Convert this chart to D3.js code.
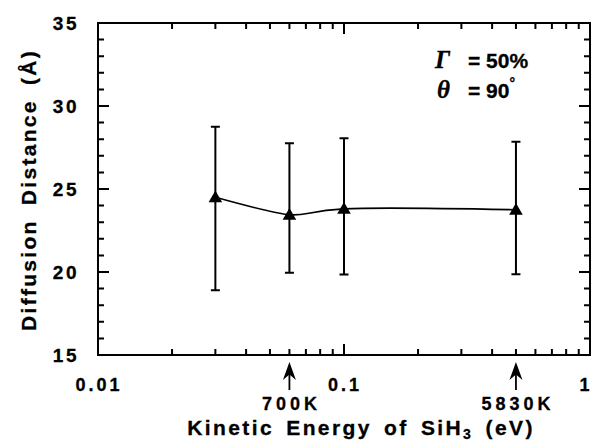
<!DOCTYPE html>
<html lang="en">
<head>
<meta charset="utf-8">
<script src="https://d3js.org/d3.v7.min.js"></script>
<title>Diffusion Distance vs Kinetic Energy</title>
<style>
    body { margin: 0; background: #fff; }
    svg { display: block; }
    text { font-family: "Liberation Sans", Arial, sans-serif; font-weight: bold; fill: #000; stroke: #000; stroke-width: 0.3px; }
</style>
</head>
<body>
<div id="chart"></div>
<script>
// data
const energies = [0.03, 0.06, 0.1, 0.5];           // eV
const distances = [24.5, 23.45, 23.8, 23.75];      // Angstrom
const errLow = [18.9, 19.95, 19.85, 19.87];
const errHigh = [28.75, 27.75, 28.05, 27.85];

const xTicks = [0.01, 0.1, 1];
const xTickLabels = ["0.01", "0.1", "1"];
const yTicks = [15, 20, 25, 30, 35];

const arrowEnergies = [0.06, 0.5];
const arrowLabels = ["700K", "5830K"];

const W = 593, H = 441;
const margin = {top: 23, right: 3, bottom: 86, left: 98};

const svg = d3.select("#chart").append("svg")
    .attr("width", W)
    .attr("height", H);

const x = d3.scaleLog()
    .domain([0.01, 1])
    .range([margin.left, W - margin.right]);

const y = d3.scaleLinear()
    .domain([15, 35])
    .range([H - margin.bottom, margin.top]);

const x0 = x.range()[0], x1 = x.range()[1];
const y0 = y.range()[0], y1 = y.range()[1];

// minor ticks
const xMinor = [];
[0.01, 0.1].forEach(d => { for (let k = 2; k <= 9; k++) xMinor.push(d * k); });
const yMinor = d3.range(15, 36).filter(v => v % 5 !== 0);

const g = svg.append("g").attr("stroke", "#000").attr("fill", "none");

// frame
g.append("rect")
    .attr("x", x0).attr("y", y1)
    .attr("width", x1 - x0).attr("height", y0 - y1)
    .attr("stroke-width", 2);

// x ticks (bottom pointing up, top pointing down)
g.selectAll(".xmaj").data(xTicks).enter().append("path")
    .attr("d", d => `M${x(d)},${y0}v-11M${x(d)},${y1}v11`)
    .attr("stroke-width", 2);
g.selectAll(".xmin").data(xMinor).enter().append("path")
    .attr("d", d => `M${x(d)},${y0}v-6M${x(d)},${y1}v6`)
    .attr("stroke-width", 2);

// y ticks (left and right, pointing in)
g.selectAll(".ymaj").data(yTicks).enter().append("path")
    .attr("d", d => `M${x0},${y(d)}h11M${x1},${y(d)}h-11`)
    .attr("stroke-width", 2);
g.selectAll(".ymin").data(yMinor).enter().append("path")
    .attr("d", d => `M${x0},${y(d)}h6M${x1},${y(d)}h-6`)
    .attr("stroke-width", 2);

// tick labels
svg.selectAll(".ylab").data(yTicks).enter().append("text")
    .attr("x", 79)
    .attr("y", d => y(d) + 7)
    .attr("text-anchor", "end")
    .style("font-size", "19px")
    .style("letter-spacing", "2.5px")
    .text(d => d);

svg.selectAll(".xlab").data(xTicks).enter().append("text")
    .attr("x", (d, i) => i === xTicks.length - 1 ? x(d) - 4 : x(d) + 1)
    .attr("y", 391)
    .attr("text-anchor", "middle")
    .style("font-size", "18px")
    .style("letter-spacing", "3px")
    .text((d, i) => xTickLabels[i]);

// fitted curve
const line = d3.line()
    .x((d, i) => x(energies[i]))
    .y(d => y(d))
    .curve(d3.curveNatural);
g.append("path")
    .datum(distances)
    .attr("d", line)
    .attr("stroke-width", 1.6);

// error bars
g.selectAll(".err").data(energies).enter().append("path")
    .attr("d", (d, i) => {
        const cx = x(d), lo = y(errLow[i]), hi = y(errHigh[i]);
        return `M${cx},${lo}V${hi}M${cx - 4.5},${hi}h9M${cx - 4.5},${lo}h9`;
    })
    .attr("stroke-width", 2);

// triangle markers
svg.selectAll(".pt").data(energies).enter().append("path")
    .attr("d", d3.symbol().type(d3.symbolTriangle).size(80))
    .attr("transform", (d, i) => `translate(${x(d)},${y(distances[i]) + 1})`)
    .attr("fill", "#000");

// arrows marking temperatures
const arrows = svg.selectAll(".arrow").data(arrowEnergies).enter().append("g")
    .attr("transform", d => `translate(${x(d)},${y0 + 7})`);
arrows.append("path")
    .attr("d", "M0,0L6.5,18L0,12.5L-6.5,18Z")
    .attr("fill", "#000");
arrows.append("path")
    .attr("d", "M0,10V28")
    .attr("stroke", "#000")
    .attr("stroke-width", 1.8);
arrows.append("text")
    .attr("x", 2)
    .attr("y", 48)
    .attr("text-anchor", "middle")
    .style("font-size", "18px")
    .style("letter-spacing", "4px")
    .text((d, i) => arrowLabels[i]);

// axis titles
svg.append("text")
    .attr("transform", "translate(36,190) rotate(-90)")
    .attr("text-anchor", "middle")
    .style("font-size", "21px")
    .style("letter-spacing", "2.3px")
    .style("word-spacing", "6px")
    .text("Diffusion Distance (Å)");

const xt = svg.append("text")
    .attr("x", 361)
    .attr("y", 435)
    .attr("text-anchor", "middle")
    .style("font-size", "21px")
    .style("letter-spacing", "2.4px")
    .style("word-spacing", "4px");
xt.append("tspan").text("Kinetic Energy of SiH");
xt.append("tspan").attr("dy", 4).style("font-size", "14px").text("3");
xt.append("tspan").attr("dy", -4).text(" (eV)");

// annotation
const ann = svg.append("g");
const t1 = ann.append("text").attr("x", 435).attr("y", 68).style("font-size", "21px");
t1.append("tspan").style("font-family", "'Liberation Serif', serif").style("font-style", "italic").style("font-size", "25px").text("Γ");
t1.append("tspan").attr("x", 468).text("= 50%");
const t2 = ann.append("text").attr("x", 437).attr("y", 98).style("font-size", "21px");
t2.append("tspan").style("font-family", "'Liberation Serif', serif").style("font-style", "italic").style("font-size", "25px").text("θ");
t2.append("tspan").attr("x", 468).text("= 90");
t2.append("tspan").attr("dy", -10).style("font-size", "14px").text("°");
</script>
</body>
</html>
